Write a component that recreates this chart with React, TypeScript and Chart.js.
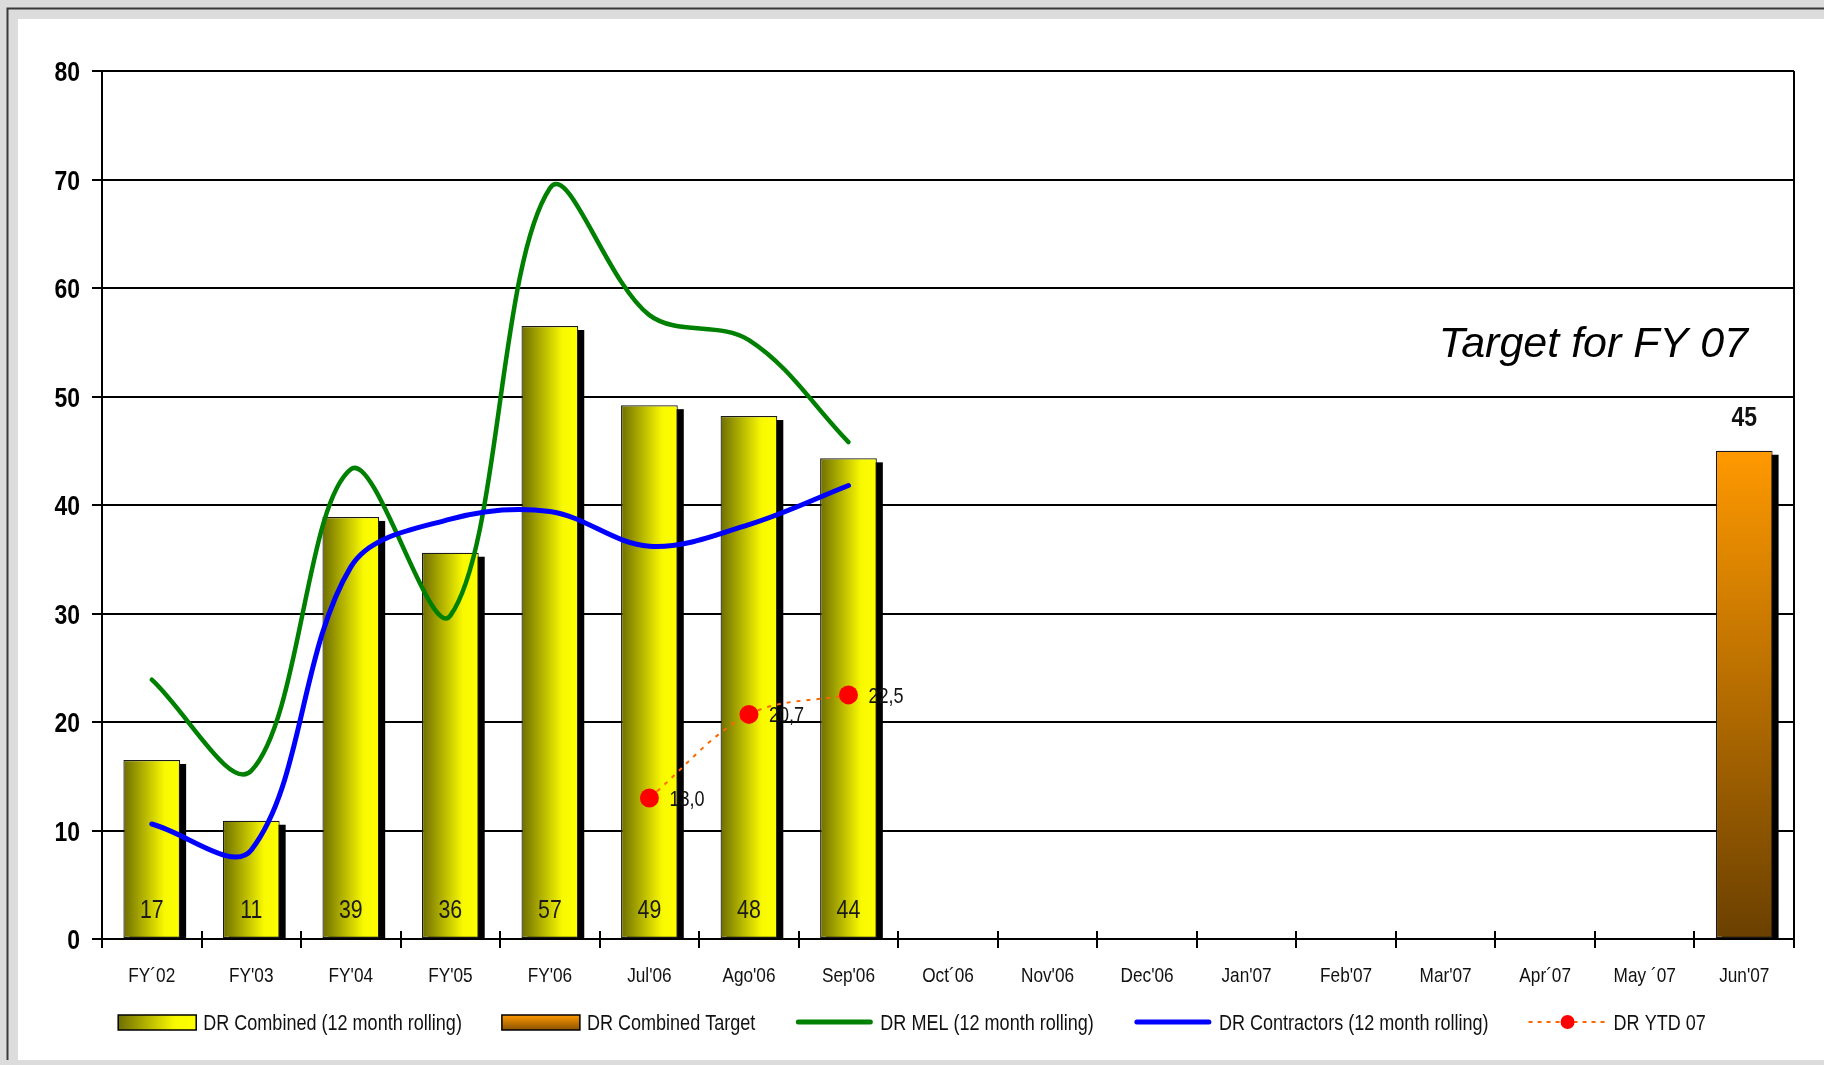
import React, { useEffect, useRef } from "react";
import { Chart, registerables } from "chart.js";

Chart.register(...registerables);

// ---------------- data ----------------
const categories = [
  "FY´02", "FY'03", "FY'04", "FY'05", "FY'06", "Jul'06", "Ago'06", "Sep'06",
  "Oct´06", "Nov'06", "Dec'06", "Jan'07", "Feb'07", "Mar'07", "Apr´07", "May ´07", "Jun'07",
];
const combinedValues = [16.5, 10.9, 38.9, 35.6, 56.5, 49.2, 48.2, 44.3];
const targetValues = [45]; // Jun'07
const targetStart = 16;
const melValues = [23.9, 15.5, 43.3, 29.8, 69.2, 57.5, 55.2, 45.8];
const contractorValues = [10.6, 8.2, 34.3, 38.7, 39.4, 36.2, 38.2, 41.8];
const ytdValues = [13.0, 20.7, 22.5]; // Jul'06 .. Sep'06
const ytdStart = 5;
const yMin = 0;
const yMax = 80;
const yStep = 10;
const seriesLabels = [
  "DR Combined (12 month rolling)",
  "DR Combined Target",
  "DR MEL (12 month rolling)",
  "DR Contractors (12 month rolling)",
  "DR YTD 07",
];
const targetTitle = "Target for FY 07";

// ---------------- styles ----------------
const ARIAL = "'Liberation Sans', Arial, sans-serif";
const NARROW_SCALE = 0.82;
const W = 1824;
const H = 1065;
const BAR_FRACTION = 0.57;

function pad(values: number[], start: number): (number | null)[] {
  const out: (number | null)[] = categories.map(() => null);
  values.forEach((v, i) => (out[start + i] = v));
  return out;
}

function barGeom(chart: any, index: number) {
  const xs = chart.scales.x;
  const cx = xs.getPixelForValue(index);
  const w = (xs.width / categories.length) * BAR_FRACTION;
  return { cx, w };
}

// Arial-Narrow-like text: Liberation Sans squeezed horizontally
function narrowText(
  ctx: CanvasRenderingContext2D, text: string, x: number, y: number,
  size: number, align: CanvasTextAlign, color: string, weight = "normal",
) {
  ctx.save();
  ctx.translate(x, y);
  ctx.scale(NARROW_SCALE, 1);
  ctx.font = `${weight} ${size}px ${ARIAL}`;
  ctx.fillStyle = color;
  ctx.textAlign = align;
  ctx.textBaseline = "alphabetic";
  ctx.fillText(text, 0, 0);
  ctx.restore();
}
function narrowWidth(ctx: CanvasRenderingContext2D, text: string, size: number, weight = "normal") {
  ctx.save();
  ctx.font = `${weight} ${size}px ${ARIAL}`;
  const w = ctx.measureText(text).width * NARROW_SCALE;
  ctx.restore();
  return w;
}

const framePlugin = {
  id: "frame",
  beforeDraw(chart: any) {
    const { ctx, width, height } = chart;
    ctx.save();
    ctx.fillStyle = "#dcdcdc";
    ctx.fillRect(0, 0, width, height);
    ctx.fillStyle = "#ffffff";
    ctx.fillRect(18, 19, width - 18, 1060 - 19);
    ctx.strokeStyle = "#3a3a3a";
    ctx.lineWidth = 2;
    ctx.beginPath();
    ctx.moveTo(7.5, 1060);
    ctx.lineTo(7.5, 8.5);
    ctx.lineTo(width, 8.5);
    ctx.stroke();
    ctx.restore();
  },
};

const shadowPlugin = {
  id: "barShadow",
  beforeDatasetsDraw(chart: any) {
    const ctx = chart.ctx;
    const area = chart.chartArea;
    ctx.save();
    ctx.strokeStyle = "#000";
    ctx.lineWidth = 2;
    const xs = chart.scales.x;
    const step = xs.width / categories.length;
    for (let i = 0; i <= categories.length; i++) {
      const x = Math.round(area.left + i * step);
      ctx.beginPath();
      ctx.moveTo(x, area.bottom - 8);
      ctx.lineTo(x, area.bottom);
      ctx.stroke();
    }
    ctx.fillStyle = "#000";
    chart.data.datasets.forEach((ds: any, i: number) => {
      if (ds.type !== "bar") return;
      const meta = chart.getDatasetMeta(i);
      meta.data.forEach((el: any, j: number) => {
        if (ds.data[j] == null) return;
        const { x, y, base, width } = el.getProps(["x", "y", "base", "width"], true);
        ctx.fillRect(x - width / 2 + 6, y + 4, width, base - y - 4);
      });
    });
    ctx.restore();
  },
};

const labelsPlugin = {
  id: "labels",
  afterDatasetsDraw(chart: any) {
    const ctx = chart.ctx;
    chart.data.datasets.forEach((ds: any, i: number) => {
      const meta = chart.getDatasetMeta(i);
      meta.data.forEach((el: any, j: number) => {
        const v = ds.data[j];
        if (v == null) return;
        const { x, y, base } = el.getProps(["x", "y", "base"], true);
        if (ds.label === seriesLabels[0]) {
          narrowText(ctx, String(Math.round(v)), x, base - 20, 26, "center", "#1a1a1a");
        } else if (ds.label === seriesLabels[1]) {
          narrowText(ctx, String(Math.round(v)), x, y - 25, 28, "center", "#111", "bold");
        } else if (ds.label === seriesLabels[4]) {
          narrowText(ctx, v.toFixed(1).replace(".", ","), x + 20, y + 8, 22, "left", "#111");
        }
      });
    });
  },
  afterDraw(chart: any) {
    const ctx = chart.ctx;
    const area = chart.chartArea;
    ctx.save();
    // right border of plot
    ctx.strokeStyle = "#000";
    ctx.lineWidth = 2;
    ctx.beginPath();
    ctx.moveTo(area.right, area.top);
    ctx.lineTo(area.right, area.bottom + 8);
    ctx.stroke();
    ctx.restore();

    // axis tick labels
    const xs = chart.scales.x;
    categories.forEach((c, i) => {
      narrowText(ctx, c, xs.getPixelForValue(i), area.bottom + 43, 21, "center", "#111");
    });
    const ys = chart.scales.y;
    ys.ticks.forEach((t: any) => {
      narrowText(ctx, String(t.value), area.left - 22, ys.getPixelForValue(t.value) + 10, 28, "right", "#000", "bold");
    });

    // title
    ctx.save();
    ctx.font = `italic 43px ${ARIAL}`;
    ctx.fillStyle = "#000";
    ctx.textAlign = "right";
    ctx.textBaseline = "alphabetic";
    ctx.fillText(targetTitle, area.right - 46, area.top + 286);
    ctx.restore();

    // legend
    const fs = 22;
    const symW = 78;
    const gapSym = 7;
    const gapItem = 40;
    const widths = seriesLabels.map((l) => narrowWidth(ctx, l, fs));
    const total = widths.reduce((a, b) => a + b, 0) + seriesLabels.length * (symW + gapSym) + gapItem * (seriesLabels.length - 1);
    let x = chart.width / 2 - total / 2;
    const yc = 1022;
    ctx.save();
    seriesLabels.forEach((label, i) => {
      if (i === 0) {
        const g = ctx.createLinearGradient(x, 0, x + symW, 0);
        g.addColorStop(0, "#6e6e00");
        g.addColorStop(0.72, "#f8f800");
        g.addColorStop(1, "#ffff00");
        ctx.fillStyle = g;
        ctx.fillRect(x, yc - 7, symW, 15);
        ctx.lineWidth = 1.5;
        ctx.strokeStyle = "#000";
        ctx.strokeRect(x, yc - 7, symW, 15);
      } else if (i === 1) {
        const g = ctx.createLinearGradient(0, yc - 7, 0, yc + 8);
        g.addColorStop(0, "#ff9900");
        g.addColorStop(1, "#8a5200");
        ctx.fillStyle = g;
        ctx.fillRect(x, yc - 7, symW, 15);
        ctx.lineWidth = 1.5;
        ctx.strokeStyle = "#000";
        ctx.strokeRect(x, yc - 7, symW, 15);
      } else if (i === 2 || i === 3) {
        ctx.strokeStyle = i === 2 ? "#008000" : "#0000ff";
        ctx.lineWidth = 5;
        ctx.lineCap = "round";
        ctx.beginPath();
        ctx.moveTo(x + 3, yc);
        ctx.lineTo(x + symW - 3, yc);
        ctx.stroke();
        ctx.lineCap = "butt";
      } else {
        ctx.strokeStyle = "#ff6600";
        ctx.lineWidth = 2;
        ctx.setLineDash([4, 5]);
        ctx.beginPath();
        ctx.moveTo(x, yc);
        ctx.lineTo(x + symW, yc);
        ctx.stroke();
        ctx.setLineDash([]);
        ctx.fillStyle = "#ff0000";
        ctx.beginPath();
        ctx.arc(x + symW / 2, yc, 7, 0, Math.PI * 2);
        ctx.fill();
      }
      narrowText(ctx, label, x + symW + gapSym, yc + 8, fs, "left", "#111");
      x += symW + gapSym + widths[i] + gapItem;
    });
    ctx.restore();
  },
};

export default function App() {
  const ref = useRef<HTMLCanvasElement | null>(null);

  useEffect(() => {
    const canvas = ref.current;
    if (!canvas) return;

    const yellowGradient = (c: any) => {
      const chart = c.chart;
      if (!chart.chartArea || c.dataIndex === undefined) return "#ffff00";
      const { cx, w } = barGeom(chart, c.dataIndex);
      const g = chart.ctx.createLinearGradient(cx - w / 2, 0, cx + w / 2, 0);
      g.addColorStop(0, "#6e6e00");
      g.addColorStop(0.72, "#f8f800");
      g.addColorStop(1, "#ffff00");
      return g;
    };
    const orangeGradient = (c: any) => {
      const chart = c.chart;
      if (!chart.chartArea || c.dataIndex === undefined) return "#ff9900";
      const ys = chart.scales.y;
      const v = c.dataset.data[c.dataIndex] ?? 0;
      const top = ys.getPixelForValue(v);
      const bottom = ys.getPixelForValue(0);
      const g = chart.ctx.createLinearGradient(0, top, 0, bottom);
      g.addColorStop(0, "#ff9900");
      g.addColorStop(1, "#6a4000");
      return g;
    };

    const chart = new Chart(canvas, {
      data: {
        labels: categories,
        datasets: [
          {
            type: "bar",
            label: seriesLabels[0],
            data: pad(combinedValues, 0),
            backgroundColor: yellowGradient,
            borderColor: "#1a1a1a",
            borderWidth: 1.2,
            borderSkipped: false,
            stack: "bars",
            order: 3,
            barPercentage: BAR_FRACTION,
            categoryPercentage: 1,
          },
          {
            type: "bar",
            label: seriesLabels[1],
            data: pad(targetValues, targetStart),
            backgroundColor: orangeGradient,
            borderColor: "#1a1a1a",
            borderWidth: 1.2,
            borderSkipped: false,
            stack: "bars",
            order: 3,
            barPercentage: BAR_FRACTION,
            categoryPercentage: 1,
          },
          {
            type: "line",
            label: seriesLabels[2],
            data: pad(melValues, 0),
            borderColor: "#008000",
            borderWidth: 4.5,
            borderCapStyle: "round",
            tension: 0.35,
            pointRadius: 0,
            stack: "mel",
            order: 2,
          },
          {
            type: "line",
            label: seriesLabels[3],
            data: pad(contractorValues, 0),
            borderColor: "#0000ff",
            borderWidth: 5,
            borderCapStyle: "round",
            tension: 0.35,
            pointRadius: 0,
            stack: "con",
            order: 1,
          },
          {
            type: "line",
            label: seriesLabels[4],
            data: pad(ytdValues, ytdStart),
            borderColor: "#ff6600",
            borderWidth: 2,
            borderDash: [4, 6],
            tension: 0.35,
            pointRadius: 9.5,
            pointBackgroundColor: "#ff0000",
            pointBorderWidth: 0,
            pointBorderColor: "#ff0000",
            stack: "ytd",
            order: 0,
          },
        ],
      } as any,
      options: {
        animation: false,
        responsive: false,
        devicePixelRatio: 1,
        events: [],
        layout: { padding: { left: 0, top: 71, right: 30, bottom: 0 } },
        plugins: {
          legend: { display: false },
          tooltip: { enabled: false },
          title: { display: false },
        },
        scales: {
          x: {
            offset: true,
            grid: {
              offset: true,
              drawOnChartArea: false,
              drawTicks: true,
              tickLength: 9,
              color: "#000",
              lineWidth: 2,
            },
            border: { display: true, color: "#000", width: 2 },
            ticks: { display: false, autoSkip: false },
            afterFit: (s: any) => {
              s.height = H - 939;
            },
          },
          y: {
            stacked: true,
            min: yMin,
            max: yMax,
            ticks: { stepSize: yStep, display: false },
            grid: {
              color: "#000",
              lineWidth: 2,
              tickLength: 10,
              drawTicks: true,
            },
            border: { display: true, color: "#000", width: 2 },
            afterFit: (s: any) => {
              s.width = 102;
            },
          },
        },
      } as any,
      plugins: [framePlugin, shadowPlugin, labelsPlugin],
    });

    return () => chart.destroy();
  }, []);

  return (
    <div style={{ position: "fixed", left: 0, top: 0, width: W, height: H, background: "#dcdcdc" }}>
      <canvas ref={ref} width={W} height={H} style={{ display: "block", width: W, height: H }} />
    </div>
  );
}
